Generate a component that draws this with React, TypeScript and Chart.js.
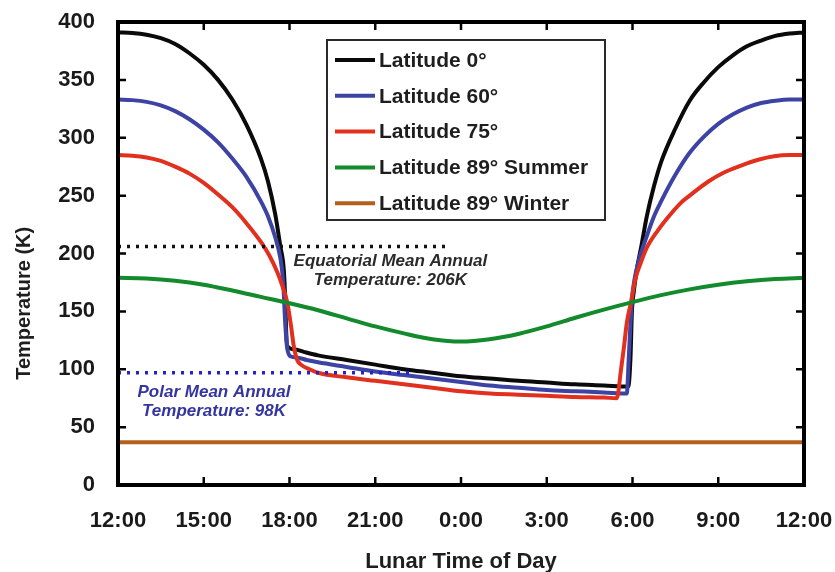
import { useEffect, useRef } from 'react';
import { Chart, registerables } from 'chart.js';

Chart.register(...registerables);

// ---- Data (x = hours elapsed since 12:00 noon, y = temperature in K) ----
const xTickLabels = ['12:00', '15:00', '18:00', '21:00', '0:00', '3:00', '6:00', '9:00', '12:00'];
const yTickValues = [0, 50, 100, 150, 200, 250, 300, 350, 400];

const seriesNames = ['Latitude 0°', 'Latitude 60°', 'Latitude 75°', 'Latitude 89° Summer', 'Latitude 89° Winter'];
const seriesColors = ['#0a0a0a', '#3d43a3', '#e2301f', '#138a2b', '#b3601c'];

const lat0Hours = [0, 0.5, 1, 1.5, 2, 2.5, 3, 3.5, 4, 4.5, 5, 5.25, 5.5, 5.68, 5.8, 5.85, 5.88, 5.92, 6.2, 6.5, 7, 8, 9, 10, 11, 12, 13, 14, 15, 16, 17, 17.85, 17.93, 17.98, 18.05, 18.15, 18.3, 18.5, 18.75, 19, 19.5, 20, 20.5, 21, 21.5, 22, 22.5, 23, 23.5, 24];
const lat0Temps = [391, 390.5, 389, 386, 381, 373, 363, 350, 333, 311, 282, 262, 234, 206, 186, 160, 135, 120, 117, 115, 112, 108, 104, 100, 97, 94, 92, 90, 88.5, 87, 86, 85, 110, 150, 168, 186, 205, 232, 258, 279, 308, 332, 348, 361, 371, 379, 384, 388, 390, 391];

const lat60Hours = [0, 0.5, 1, 1.5, 2, 2.5, 3, 3.5, 4, 4.5, 5, 5.25, 5.5, 5.68, 5.78, 5.85, 5.92, 6.05, 6.3, 6.6, 7, 8, 9, 10, 11, 12, 13, 14, 15, 16, 17, 17.8, 17.87, 17.93, 18.0, 18.2, 18.5, 18.75, 19, 19.5, 20, 20.5, 21, 21.5, 22, 22.5, 23, 23.5, 24];
const lat60Temps = [333, 332.5, 331, 328, 323, 316, 307, 296, 282, 266, 245, 232, 214, 196, 175, 140, 118, 111, 110, 108, 106, 102, 98, 95, 92, 89, 86, 84, 82, 81, 80, 79, 110, 140, 165, 192, 215, 232, 245, 268, 287, 301, 312, 320, 326, 330, 332, 333, 333];

const lat75Hours = [0, 0.5, 1, 1.5, 2, 2.5, 3, 3.5, 4, 4.5, 5, 5.3, 5.57, 5.75, 5.92, 6.05, 6.15, 6.27, 6.4, 6.7, 7, 8, 9, 10, 11, 12, 13, 14, 15, 16, 17, 17.45, 17.6, 17.7, 17.8, 17.94, 18.1, 18.29, 18.5, 18.89, 19.2, 19.7, 20, 20.64, 21.2, 21.8, 22.4, 22.95, 23.5, 24];
const lat75Temps = [285, 284.5, 283, 280, 275, 269, 261, 251, 240, 226, 210, 198, 184, 172, 158, 138, 120, 108, 104, 100, 97, 93, 90, 87, 84, 81, 79, 78, 77, 76, 75.5, 75, 100, 119, 140, 157, 178, 192, 205, 220, 230, 244, 250, 262, 270, 276, 281, 284, 285, 285];

const lat89SummerHours = [0, 1, 2, 3, 4, 5, 6, 7, 8, 9, 10, 11, 12, 13, 14, 15, 16, 17, 18, 19, 20, 21, 22, 23, 24];
const lat89SummerTemps = [179, 178.5, 176.5, 173, 168, 162.5, 157, 151, 144, 137, 131, 126, 124, 126, 130.5, 137, 144.5, 151.5, 158, 164, 169, 173, 176, 178, 179];

const lat89WinterHours = [0, 24];
const lat89WinterTemps = [37, 37];

const equatorialMeanHours = [0, 11.56];
const equatorialMeanTemps = [206, 206];
const polarMeanHours = [0, 10.23];
const polarMeanTemps = [97, 97];

const equatorialNote = ['Equatorial Mean Annual', 'Temperature: 206K'];
const polarNote = ['Polar Mean Annual', 'Temperature: 98K'];
const xTitle = 'Lunar Time of Day';
const yTitle = 'Temperature (K)';

const FONT = '"Liberation Sans", Arial, Helvetica, sans-serif';

const toPoints = (hours: number[], temps: number[]) => hours.map((h, i) => ({ x: h, y: temps[i] }));

const decorPlugin = {
  id: 'decor',
  afterDraw(chart: any) {
    const { ctx, chartArea: a, scales } = chart;
    const xs = scales.x;
    const ys = scales.y;
    ctx.save();

    // frame
    ctx.strokeStyle = '#000';
    ctx.lineWidth = 4;
    ctx.strokeRect(a.left, a.top, a.right - a.left, a.bottom - a.top);

    // inward ticks
    ctx.lineWidth = 2.5;
    ctx.beginPath();
    yTickValues.forEach((v) => {
      if (v === 0 || v === 400) return;
      const py = ys.getPixelForValue(v);
      ctx.moveTo(a.left, py);
      ctx.lineTo(a.left + 8, py);
      ctx.moveTo(a.right, py);
      ctx.lineTo(a.right - 8, py);
    });
    xTickLabels.forEach((_, i) => {
      const v = i * 3;
      if (v === 0 || v === 24) return;
      const px = xs.getPixelForValue(v);
      ctx.moveTo(px, a.bottom);
      ctx.lineTo(px, a.bottom - 8);
      ctx.moveTo(px, a.top);
      ctx.lineTo(px, a.top + 8);
    });
    ctx.stroke();

    // legend box
    const bx = a.left + 209;
    const by = a.top + 18;
    const bw = 278;
    const bh = 180;
    ctx.fillStyle = '#fff';
    ctx.fillRect(bx, by, bw, bh);
    ctx.strokeStyle = '#2a2a2a';
    ctx.lineWidth = 2;
    ctx.strokeRect(bx, by, bw, bh);
    ctx.font = `bold 21px ${FONT}`;
    ctx.textBaseline = 'middle';
    ctx.textAlign = 'left';
    seriesNames.forEach((name, i) => {
      const ry = by + 20 + i * 35.8;
      ctx.strokeStyle = seriesColors[i];
      ctx.lineWidth = 4;
      ctx.beginPath();
      ctx.moveTo(bx + 8, ry);
      ctx.lineTo(bx + 48, ry);
      ctx.stroke();
      ctx.fillStyle = '#1e1e1e';
      ctx.fillText(name, bx + 52, ry + 1);
    });

    // annotations
    ctx.font = `italic bold 17px ${FONT}`;
    ctx.textAlign = 'center';
    ctx.fillStyle = '#2a2a2a';
    const ex = xs.getPixelForValue(9.53);
    ctx.fillText(equatorialNote[0], ex, ys.getPixelForValue(193.5));
    ctx.fillText(equatorialNote[1], ex, ys.getPixelForValue(177));
    ctx.fillStyle = '#3535a0';
    const px2 = xs.getPixelForValue(3.36);
    ctx.fillText(polarNote[0], px2, ys.getPixelForValue(80.3));
    ctx.fillText(polarNote[1], px2, ys.getPixelForValue(64));

    // axis titles
    ctx.fillStyle = '#1e1e1e';
    ctx.font = `bold 22px ${FONT}`;
    ctx.textAlign = 'center';
    ctx.textBaseline = 'alphabetic';
    ctx.fillText(xTitle, (a.left + a.right) / 2, a.bottom + 83);

    ctx.save();
    ctx.translate(a.left - 88, ys.getPixelForValue(157));
    ctx.rotate(-Math.PI / 2);
    ctx.font = `bold 20px ${FONT}`;
    ctx.fillText(yTitle, 0, 0);
    ctx.restore();

    ctx.restore();
  },
};

export default function App() {
  const canvasRef = useRef<HTMLCanvasElement | null>(null);

  useEffect(() => {
    document.body.style.margin = '0';
    const canvas = canvasRef.current;
    if (!canvas) return;

    const line = (i: number, hours: number[], temps: number[], order: number) => ({
      label: seriesNames[i],
      data: toPoints(hours, temps),
      borderColor: seriesColors[i],
      backgroundColor: seriesColors[i],
      borderWidth: 4,
      pointRadius: 0,
      cubicInterpolationMode: 'monotone' as const,
      fill: false,
      order,
    });

    const tickFont = { family: FONT, size: 22, weight: 'bold' as const };

    const chart = new Chart(canvas, {
      type: 'line',
      data: {
        datasets: [
          line(0, lat0Hours, lat0Temps, 5),
          line(1, lat60Hours, lat60Temps, 4),
          line(2, lat75Hours, lat75Temps, 3),
          line(3, lat89SummerHours, lat89SummerTemps, 2),
          line(4, lat89WinterHours, lat89WinterTemps, 1),
          {
            label: 'Equatorial mean',
            data: toPoints(equatorialMeanHours, equatorialMeanTemps),
            borderColor: '#111111',
            borderWidth: 3.5,
            borderDash: [3, 6],
            pointRadius: 0,
            fill: false,
            order: 0,
          },
          {
            label: 'Polar mean',
            data: toPoints(polarMeanHours, polarMeanTemps),
            borderColor: '#2323cc',
            borderWidth: 3.5,
            borderDash: [3, 6],
            pointRadius: 0,
            fill: false,
            order: 0,
          },
        ],
      },
      options: {
        responsive: false,
        animation: false,
        layout: { padding: { left: 0, right: 31, top: 22, bottom: 0 } },
        plugins: { legend: { display: false }, tooltip: { enabled: false } },
        scales: {
          x: {
            type: 'linear',
            min: 0,
            max: 24,
            grid: { display: false, drawTicks: false },
            border: { display: false },
            ticks: {
              stepSize: 3,
              autoSkip: false,
              maxRotation: 0,
              padding: 23,
              color: '#1a1a1a',
              font: tickFont,
              callback: (v: any) => xTickLabels[Math.round(Number(v) / 3)] ?? '',
            },
            afterFit: (s: any) => {
              s.height = 87;
              s.paddingLeft = 0;
              s.paddingRight = 0;
            },
          },
          y: {
            type: 'linear',
            min: 0,
            max: 400,
            grid: { display: false, drawTicks: false },
            border: { display: false },
            ticks: {
              stepSize: 50,
              padding: 23,
              color: '#1a1a1a',
              font: tickFont,
            },
            afterFit: (s: any) => {
              s.width = 118;
              s.paddingTop = 0;
              s.paddingBottom = 0;
            },
          },
        },
      },
      plugins: [decorPlugin],
    });

    return () => chart.destroy();
  }, []);

  return (
    <div style={{ width: 835, height: 572, background: '#fff' }}>
      <canvas ref={canvasRef} width={835} height={572} style={{ display: 'block', width: 835, height: 572 }} />
    </div>
  );
}
